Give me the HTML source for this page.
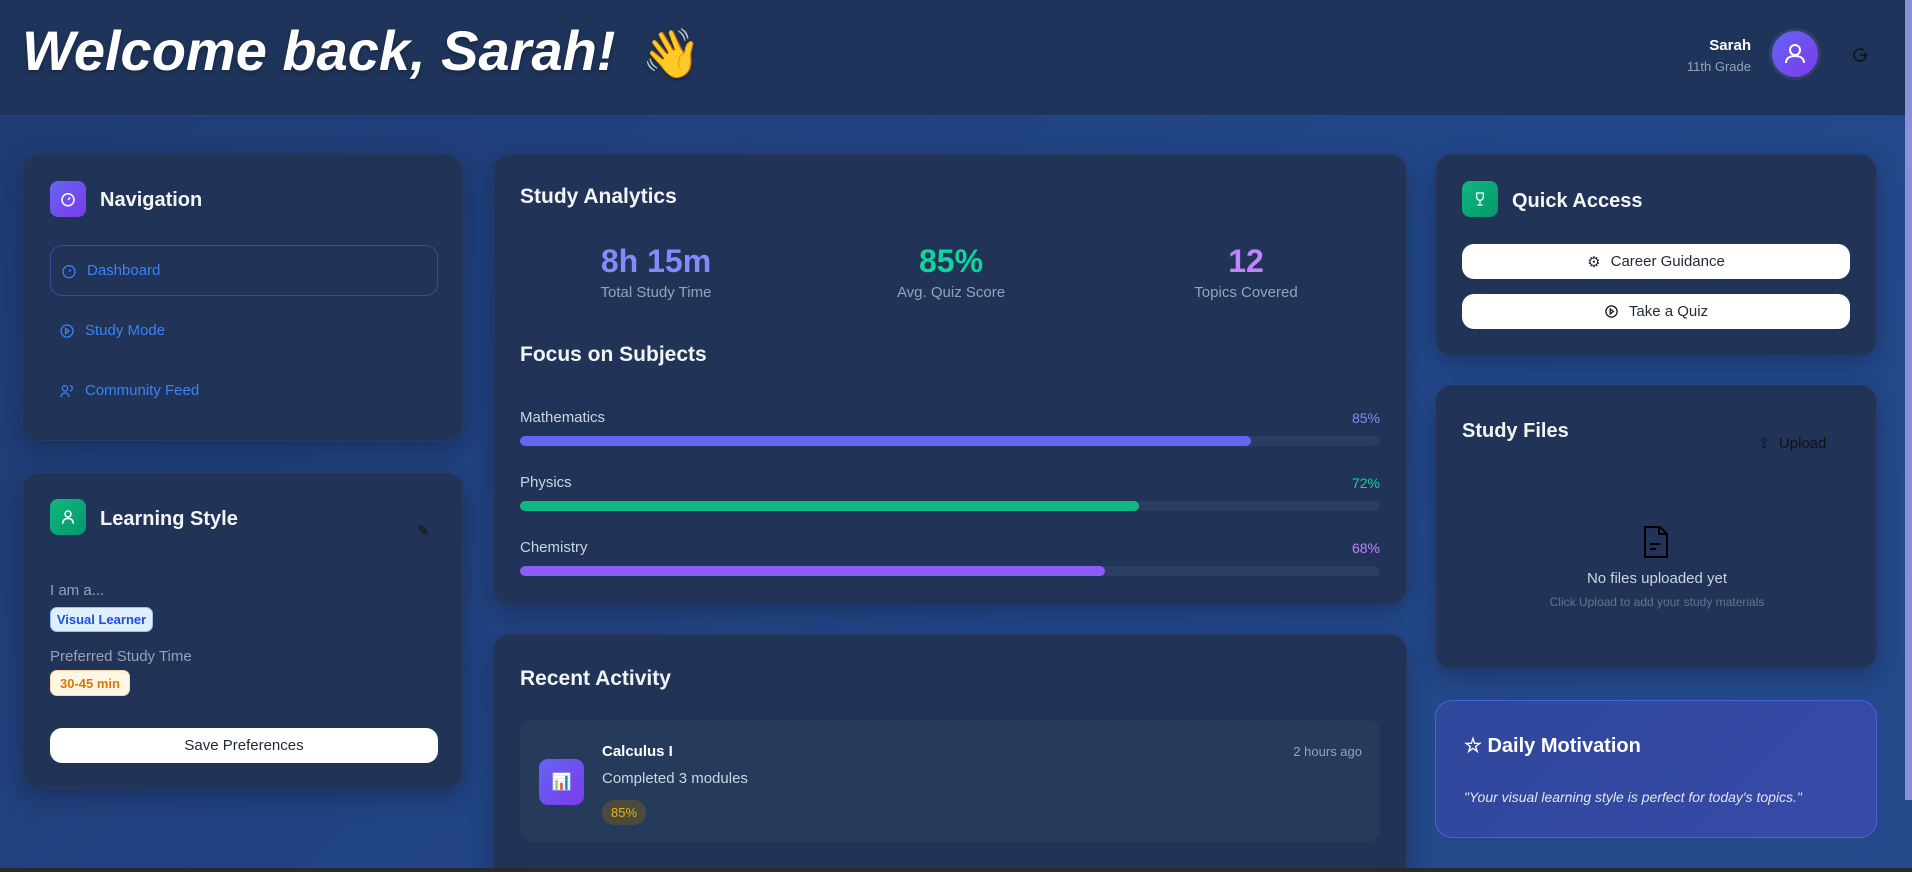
<!DOCTYPE html>
<html style="width:1912px;height:872px;overflow:hidden"><head><meta charset="utf-8"><style>
*{box-sizing:border-box;margin:0;padding:0}
body{width:1912px;height:872px;overflow:hidden;font-family:"Liberation Sans",sans-serif;background:linear-gradient(135deg,#1f3b72 0%,#22478a 60%,#244a8c 100%);position:relative;color:#e5e7eb}
.abs{position:absolute}
.header{left:0;top:0;width:1905px;height:116px;background:#1f345a;border-bottom:1px solid #2a4474}
.card{position:absolute;background:#213458;border-radius:17px;box-shadow:0 8px 24px rgba(0,0,0,.25);border:1px solid #263c63}
.ttl{position:absolute;font-size:20px;font-weight:bold;color:#f3f4f6}
.ibox{position:absolute;width:36px;height:36px;border-radius:8px;display:flex;align-items:center;justify-content:center}
.nav{position:absolute;left:26px;font-size:15px;color:#3b82f6;display:flex;align-items:center;gap:10px}
.btn{position:absolute;background:#fff;border-radius:12px;color:#1f2937;font-size:15px;display:flex;align-items:center;justify-content:center;gap:10px}
.lbl{position:absolute;font-size:15px;color:#cbd5e1}
.pct{position:absolute;font-size:14px;text-align:right}
.track{position:absolute;height:10px;border-radius:5px;background:#2b3d62}
.fill{position:absolute;left:0;top:0;height:10px;border-radius:5px}
</style></head><body>
<div class="abs header">
  <div class="abs" style="left:22px;top:18px;font-size:56px;font-weight:bold;font-style:italic;color:#fff;white-space:nowrap;text-shadow:0 2px 4px rgba(0,0,0,.3)">Welcome back, Sarah!<span style="font-style:normal;font-size:48px;margin-left:26px">👋</span></div>
  <div class="abs" style="right:154px;top:37px;font-size:15px;font-weight:bold;color:#fff;text-align:right">Sarah</div>
  <div class="abs" style="right:154px;top:59px;font-size:13px;color:#94a3b8;text-align:right">11th Grade</div>
  <div class="abs" style="left:1769px;top:28px;width:52px;height:52px;border-radius:50%;background:linear-gradient(135deg,#6366f1,#7c3aed);border:3px solid #2d4066;display:flex;align-items:center;justify-content:center">
    <svg width="24" height="24" viewBox="0 0 24 24" fill="none" stroke="#fff" stroke-width="2"><circle cx="12" cy="8" r="5"/><path d="M3 21c0-5 4-7 9-7s9 2 9 7"/></svg></div>
  <div class="abs" style="left:1851px;top:46px"><svg width="18" height="18" viewBox="0 0 24 24" fill="none" stroke="#111" stroke-width="2"><path d="M20 12a8 8 0 1 1-3-6.2"/><path d="M12 12h9M18 9l3 3-3 3"/></svg></div>
</div>
<div class="abs" style="left:1905px;top:0;width:7px;height:800px;background:#8b8fd8"></div>

<div class="card" style="left:22px;top:154px;width:441px;height:287px">
  <div class="ibox" style="left:27px;top:26px;background:linear-gradient(135deg,#6366f1,#7c3aed)"><svg width="18" height="18" viewBox="0 0 24 24" fill="none" stroke="#fff" stroke-width="2"><circle cx="12" cy="13" r="8"/><path d="M12 13l3-3"/></svg></div>
  <div class="ttl" style="left:77px;top:34px">Navigation</div>
  <div class="abs" style="left:27px;top:90px;width:388px;height:51px;border:1px solid #3b4aa0;border-radius:12px"></div>
  <div class="nav" style="top:107px;left:38px"><svg width="16" height="16" viewBox="0 0 24 24" fill="none" stroke="#3b82f6" stroke-width="2"><circle cx="12" cy="13" r="9"/><path d="M12 13l3-3"/></svg>Dashboard</div>
  <div class="nav" style="top:167px;left:36px"><svg width="16" height="16" viewBox="0 0 24 24" fill="none" stroke="#3b82f6" stroke-width="2"><circle cx="12" cy="12" r="9"/><path d="M10 8l5 4-5 4z"/></svg>Study Mode</div>
  <div class="nav" style="top:227px;left:36px"><svg width="16" height="16" viewBox="0 0 24 24" fill="none" stroke="#3b82f6" stroke-width="2"><circle cx="9" cy="8" r="4"/><path d="M3 21c0-4 3-6 6-6s6 2 6 6M16 4a4 4 0 0 1 0 8"/></svg>Community Feed</div>
</div>

<div class="card" style="left:22px;top:472px;width:441px;height:317px">
  <div class="ibox" style="left:27px;top:26px;background:linear-gradient(135deg,#10b981,#059669)"><svg width="18" height="18" viewBox="0 0 24 24" fill="none" stroke="#fff" stroke-width="2"><circle cx="12" cy="8" r="4"/><path d="M5 21c0-5 3-7 7-7s7 2 7 7"/></svg></div>
  <div class="ttl" style="left:77px;top:35px">Learning Style</div>
  <div class="abs" style="left:394px;top:49px;font-size:15px;color:#111">✎</div>
  <div class="lbl" style="left:27px;top:109px;color:#94a3b8">I am a...</div>
  <div class="abs" style="left:27px;top:134px;width:103px;height:25px;border-radius:7px;background:#e0efff;border:1px solid #93c5fd;color:#1d4ed8;font-size:13px;font-weight:bold;display:flex;align-items:center;justify-content:center">Visual Learner</div>
  <div class="lbl" style="left:27px;top:175px;color:#94a3b8">Preferred Study Time</div>
  <div class="abs" style="left:27px;top:197px;width:80px;height:26px;border-radius:7px;background:#fff7e6;border:1px solid #fcd9a0;color:#d97706;font-size:13px;font-weight:bold;display:flex;align-items:center;justify-content:center">30-45 min</div>
  <div class="btn" style="left:27px;top:255px;width:388px;height:35px">Save Preferences</div>
</div>

<div class="card" style="left:493px;top:154px;width:914px;height:451px">
  <div class="ttl" style="left:26px;top:30px;font-size:21px">Study Analytics</div>
  <div class="abs" style="left:62px;top:88px;width:200px;text-align:center"><div style="font-size:32px;font-weight:bold;color:#818cf8">8h 15m</div><div style="font-size:15px;color:#94a3b8;margin-top:4px">Total Study Time</div></div>
  <div class="abs" style="left:357px;top:88px;width:200px;text-align:center"><div style="font-size:32px;font-weight:bold;color:#10d49a">85%</div><div style="font-size:15px;color:#94a3b8;margin-top:4px">Avg. Quiz Score</div></div>
  <div class="abs" style="left:652px;top:88px;width:200px;text-align:center"><div style="font-size:32px;font-weight:bold;color:#c084fc">12</div><div style="font-size:15px;color:#94a3b8;margin-top:4px">Topics Covered</div></div>
  <div class="ttl" style="left:26px;top:188px;font-size:21px">Focus on Subjects</div>
  <div id="bars"></div>
</div>

<div class="card" style="left:493px;top:634px;width:914px;height:238px;overflow:hidden;border-bottom-left-radius:0;border-bottom-right-radius:0">
  <div class="ttl" style="left:26px;top:32px;font-size:21px">Recent Activity</div>
  <div class="abs" style="left:26px;top:85px;width:860px;height:122px;background:#263a5c;border-radius:12px">
    <div class="abs" style="left:19px;top:39px;width:45px;height:46px;border-radius:9px;background:linear-gradient(135deg,#6366f1,#7c3aed);display:flex;align-items:center;justify-content:center;font-size:16px">📊</div>
    <div class="abs" style="left:82px;top:23px;font-size:15px;font-weight:bold;color:#fff">Calculus I</div>
    <div class="abs" style="left:82px;top:50px;font-size:15px;color:#cbd5e1">Completed 3 modules</div>
    <div class="abs" style="left:82px;top:80px;width:44px;height:25px;border-radius:12px;background:#4a4a3e;color:#eab308;font-size:13px;display:flex;align-items:center;justify-content:center">85%</div>
    <div class="abs" style="right:18px;top:24px;font-size:13px;color:#94a3b8">2 hours ago</div>
  </div>
  <div class="abs" style="left:26px;top:232px;width:860px;height:40px;background:#263a5c;border-radius:12px"></div>
</div>

<div class="card" style="left:1435px;top:154px;width:442px;height:202px">
  <div class="ibox" style="left:26px;top:26px;background:linear-gradient(135deg,#10b981,#059669)"><svg width="16" height="16" viewBox="0 0 24 24" fill="none" stroke="#fff" stroke-width="2"><path d="M7 3h10v6a5 5 0 0 1-10 0z"/><path d="M12 14v5M8 21h8"/></svg></div>
  <div class="ttl" style="left:76px;top:35px">Quick Access</div>
  <div class="btn" style="left:26px;top:89px;width:388px;height:35px"><span>⚙</span>Career Guidance</div>
  <div class="btn" style="left:26px;top:139px;width:388px;height:35px"><svg width="15" height="15" viewBox="0 0 24 24" fill="none" stroke="#111" stroke-width="2"><circle cx="12" cy="12" r="9"/><path d="M10 8l5 4-5 4z"/></svg>Take a Quiz</div>
</div>

<div class="card" style="left:1435px;top:385px;width:442px;height:284px">
  <div class="ttl" style="left:26px;top:34px">Study Files</div>
  <div class="abs" style="left:322px;top:48px;font-size:15px;color:#111">⇪&nbsp; Upload</div>
  <div class="abs" style="left:207px;top:140px"><svg width="26" height="32" viewBox="0 0 26 32" fill="none" stroke="#000" stroke-width="2"><path d="M2 1h15l7 7v23H2z"/><path d="M16 1v7h8M7 18h10M7 23h6"/></svg></div>
  <div class="abs" style="left:0;width:442px;top:184px;text-align:center;font-size:15px;color:#cbd5e1">No files uploaded yet</div>
  <div class="abs" style="left:0;width:442px;top:209px;text-align:center;font-size:12px;color:#64748b">Click Upload to add your study materials</div>
</div>

<div class="abs" style="left:1435px;top:700px;width:442px;height:138px;border-radius:17px;background:linear-gradient(135deg,#30479c,#384aa8);border:1px solid #4c62d4">
  <div class="abs" style="left:28px;top:32px;font-size:20px;font-weight:bold;color:#fff">☆ Daily Motivation</div>
  <div class="abs" style="left:28px;top:88px;font-size:14px;font-style:italic;color:#e5e7eb">"Your visual learning style is perfect for today's topics."</div>
</div>
<div class="abs" style="left:0;top:868px;width:1912px;height:4px;background:#2a2a2a"></div>

<script>
const subjects = ["Mathematics","Physics","Chemistry"];
const percents = [85,72,68];
const colors = ["#6366f1","#10b981","#8b5cf6"];
const pctColors = ["#818cf8","#10d49a","#c084fc"];
const wrap = document.getElementById('bars');
const trackW = 860, x0 = 26, y0 = 254, step = 65;
function xScale(v){ return v/100*trackW; }
subjects.forEach((s,i)=>{
  const y = y0 + i*step;
  const l = document.createElement('div');
  l.className='lbl'; l.style.left=x0+'px'; l.style.top=y+'px'; l.textContent=s;
  
  
  wrap.appendChild(l);
  const p = document.createElement('div');
  p.className='pct'; p.style.left=(x0+trackW-60)+'px'; p.style.width='60px'; p.style.top=(y+1)+'px'; p.style.color=pctColors[i]; p.textContent=percents[i]+'%';
  
  
  wrap.appendChild(p);
  const t = document.createElement('div');
  t.className='track'; t.style.left=x0+'px'; t.style.top=(y+27)+'px'; t.style.width=trackW+'px';
  
  
  const f = document.createElement('div');
  f.className='fill'; f.style.width=xScale(percents[i])+'px'; f.style.background=colors[i];
  
  
  t.appendChild(f);
  wrap.appendChild(t);
});
</script>
</body></html>
